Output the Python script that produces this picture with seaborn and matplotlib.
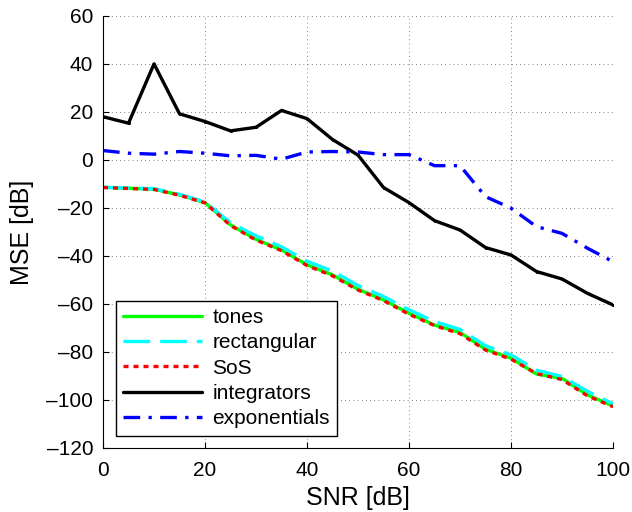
import numpy as np
import pandas as pd
import seaborn as sns
import matplotlib.pyplot as plt

snr = [0, 5, 10, 15, 20, 25, 30, 35, 40, 45, 50, 55, 60, 65, 70, 75, 80, 85, 90, 95, 100]

tones = [-11.4, -11.8, -12.2, -14.6, -17.8, -27.1, -33.1, -37.5, -43.7, -47.9, -53.9,
         -58.3, -63.9, -68.8, -71.9, -78.9, -82.6, -89.2, -91.0, -97.9, -102.5]
rectangular = [-11.4, -11.7, -12.0, -14.3, -17.5, -26.2, -31.6, -36.2, -42.2, -46.3, -52.3,
               -56.9, -62.4, -67.3, -70.6, -77.4, -81.2, -87.6, -90.2, -96.4, -101.6]
sos = [-11.5, -11.9, -12.3, -14.7, -17.9, -27.3, -33.4, -37.8, -44.0, -48.3, -54.2,
       -58.6, -64.3, -69.0, -72.4, -79.2, -83.0, -89.0, -91.5, -98.3, -102.8]
integrators = [18.0, 15.3, 40.0, 19.2, 16.0, 12.1, 13.6, 20.6, 17.2, 8.5, 2.0,
               -11.5, -17.8, -25.3, -29.2, -36.5, -39.6, -46.5, -49.6, -55.6, -60.4]
exponentials = [3.9, 2.8, 2.4, 3.5, 2.8, 1.7, 1.9, 0.3, 3.3, 3.5, 3.3,
                2.2, 2.2, -2.4, -2.4, -15.3, -20.1, -27.8, -30.6, -36.8, -42.4]

sns.set_style("ticks")
plt.rcParams['font.family'] = ['Liberation Sans', 'DejaVu Sans']
plt.rcParams['text.color'] = 'black'
plt.rcParams['axes.labelcolor'] = 'black'
plt.rcParams['xtick.color'] = 'black'
plt.rcParams['ytick.color'] = 'black'

fig = plt.figure(figsize=(6.32, 5.12), dpi=100)
ax = fig.add_axes([0.163, 0.125, 0.807, 0.844])

lw = 2.4
sns.lineplot(x=snr, y=tones, ax=ax, color='#00ff00', lw=lw, label='tones')
sns.lineplot(x=snr, y=rectangular, ax=ax, color='#00ffff', lw=lw, label='rectangular')
ax.lines[-1].set_dashes([8, 3])
sns.lineplot(x=snr, y=sos, ax=ax, color='#ff0000', lw=lw, label='SoS')
ax.lines[-1].set_dashes([1.5, 1.5])
sns.lineplot(x=snr, y=integrators, ax=ax, color='black', lw=lw, label='integrators',
             marker='.', markersize=3, markeredgecolor='black')
sns.lineplot(x=snr, y=exponentials, ax=ax, color='#0000ff', lw=lw, label='exponentials')
ax.lines[-1].set_dashes([5, 2.5, 1, 2.5])

ax.set_xlim(0, 100)
ax.set_ylim(-120, 60)
ax.set_xticks(np.arange(0, 101, 20))
ax.set_yticks(np.arange(-120, 61, 20))
ax.set_yticklabels([str(v).replace('-', '\u2013') for v in range(-120, 61, 20)])
ax.tick_params(direction='in', length=4, labelsize=15, width=0.8)
ax.tick_params(axis='y', pad=7)
ax.tick_params(axis='x', pad=9)
ax.grid(True, linestyle=(0, (1, 4)), color='#555555', linewidth=0.6)
sns.despine(ax=ax)
for s in ['left', 'bottom']:
    ax.spines[s].set_color('black')
    ax.spines[s].set_linewidth(0.8)

ax.set_xlabel('SNR [dB]', fontsize=18, labelpad=5)
ax.set_ylabel('MSE [dB]', fontsize=18, labelpad=9)

leg = ax.legend(loc='lower left', fontsize=15, handlelength=3.8, labelspacing=0.3,
                borderaxespad=0.6, fancybox=False, framealpha=1, edgecolor='black',
                borderpad=0.35, handletextpad=0.5)
leg.get_frame().set_linewidth(1.0)

fig.savefig('out.png', dpi=100)
